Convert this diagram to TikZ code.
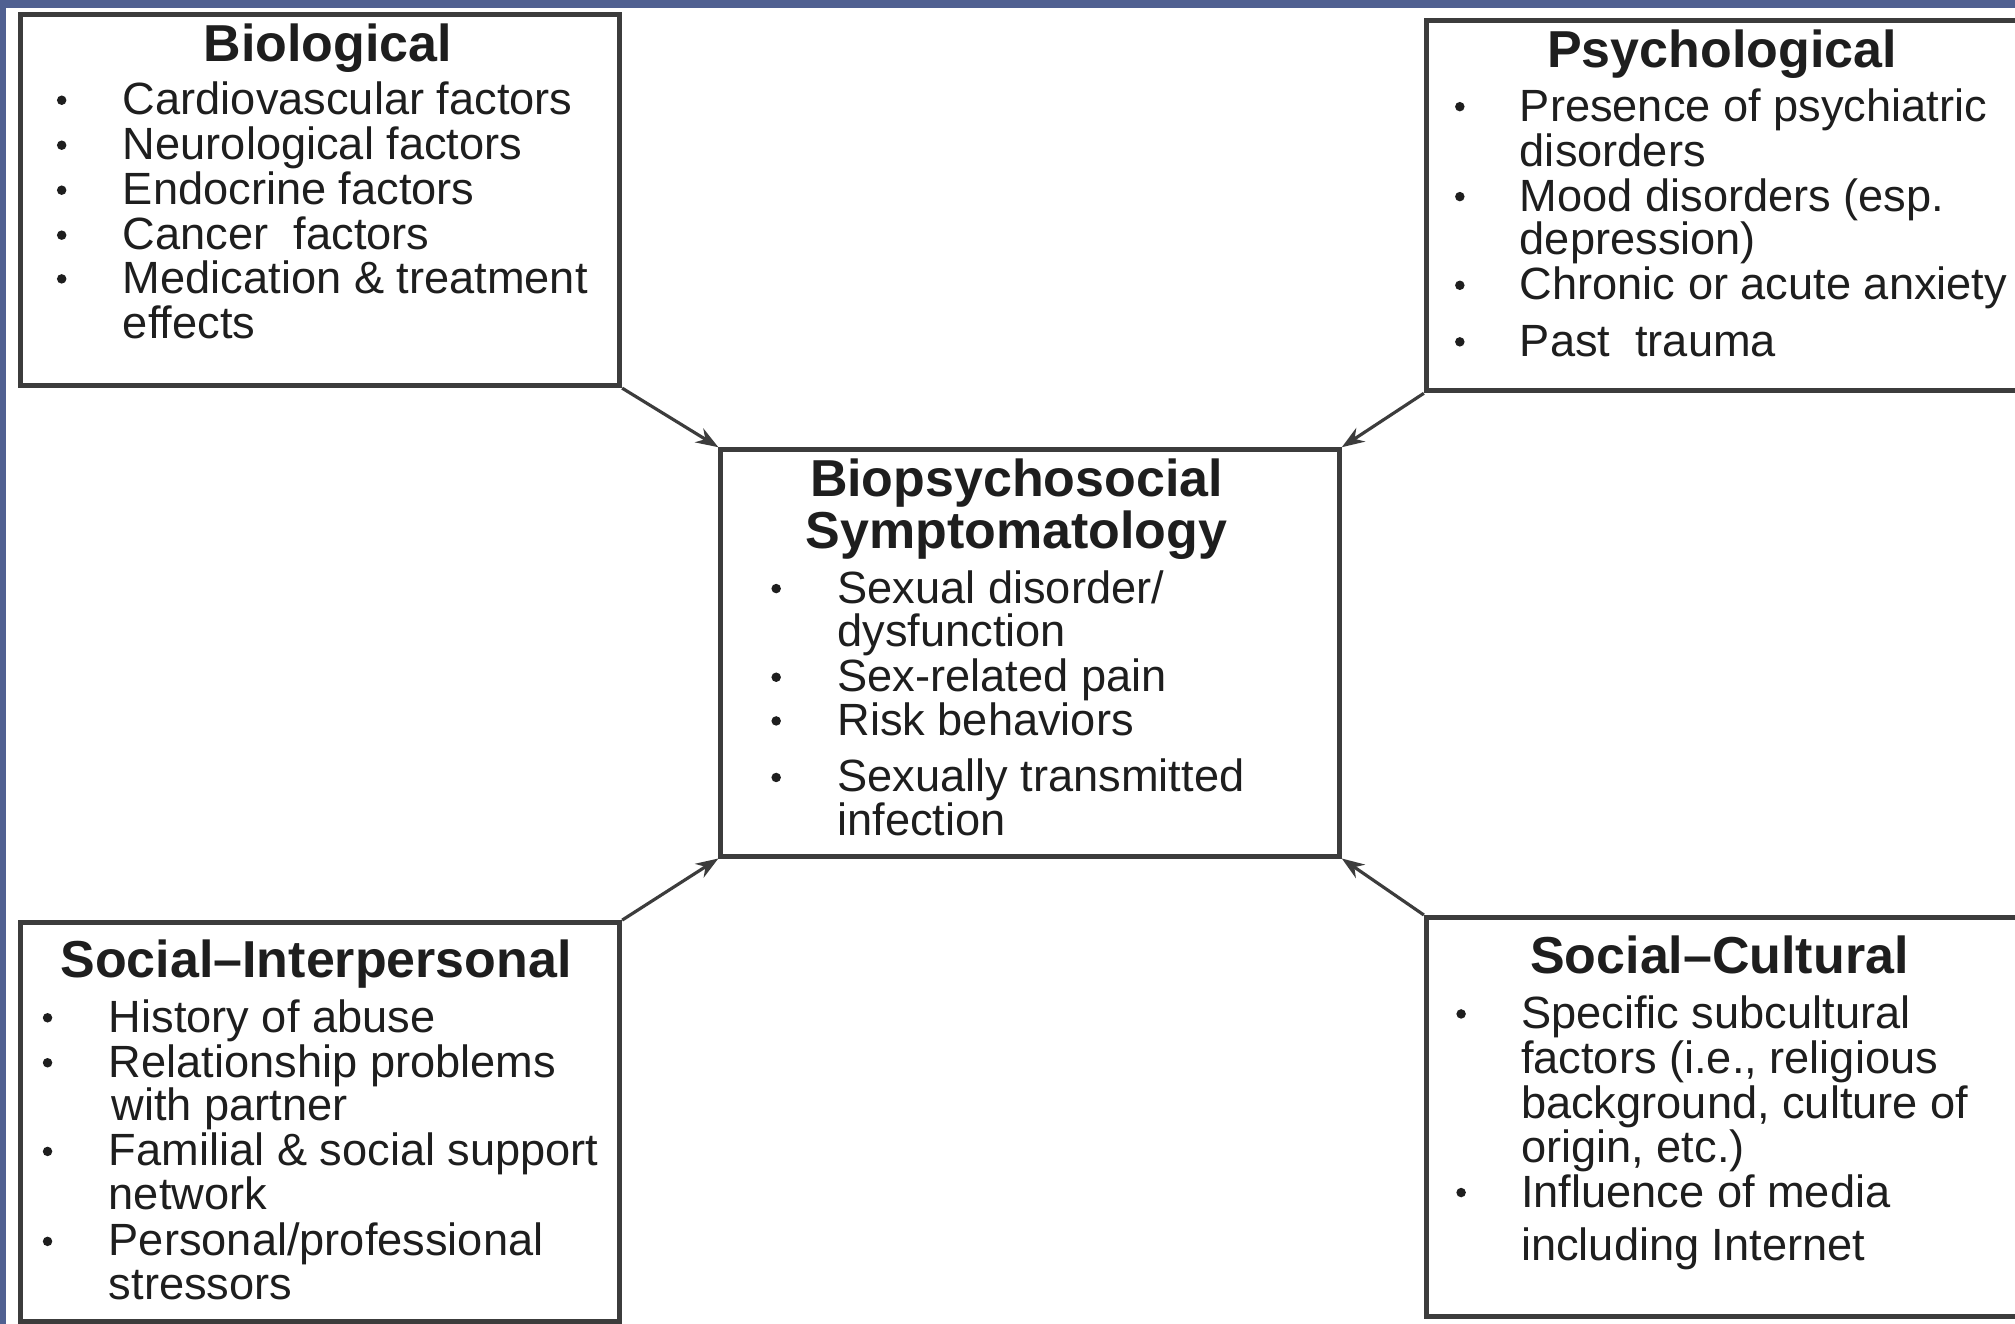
\documentclass[tikz,border=0pt]{standalone}
\usepackage{fontspec}
\setmainfont{Liberation Sans}
\usetikzlibrary{arrows.meta}
\definecolor{framecol}{RGB}{80,96,145}
\definecolor{linecol}{RGB}{60,60,60}
\definecolor{txtcol}{RGB}{30,30,30}
\tikzset{
  x=0.01cm, y=-0.01cm,
  box/.style={draw=linecol, line width=1.1pt, fill=white, inner sep=0pt, anchor=north west},
  ttl/.style={inner sep=0pt, text=txtcol, font=\fontsize{11.5}{12}\selectfont\bfseries, text height=8.3pt, text depth=0pt},
  item/.style={anchor=west, inner sep=0pt, text=txtcol, font=\fontsize{10}{10}\selectfont, text height=6.4pt, text depth=0pt},
  dot/.style={circle, fill=txtcol, inner sep=0pt, minimum size=2.1pt},
  arr/.style={draw=linecol, line width=0.7pt, -{Stealth[length=5pt,width=3.6pt]}},
}
\begin{document}
\begin{tikzpicture}
\useasboundingbox (0,0) rectangle (1568,1030);
\fill[white] (0,0) rectangle (1568,1030);
\fill[framecol] (0,0) rectangle (1568,6);
\fill[framecol] (0,0) rectangle (5,1030);

% boxes
\node[box, minimum width=4.66cm, minimum height=2.89cm] (bio) at (14,9) {};
\node[box, minimum width=4.75cm, minimum height=2.88cm] (psy) at (1108,14) {};
\node[box, minimum width=4.81cm, minimum height=3.16cm] (ctr) at (559,348) {};
\node[box, minimum width=4.66cm, minimum height=3.10cm] (sip) at (14,716) {};
\node[box, minimum width=4.75cm, minimum height=3.10cm] (scu) at (1108,712) {};

% arrows
\draw[arr] (bio.south east) -- (ctr.north west);
\draw[arr] (psy.south west) -- (ctr.north east);
\draw[arr] (sip.north east) -- (ctr.south west);
\draw[arr] (scu.north west) -- (ctr.south east);

% Biological
\node[ttl] (bioT) at (255,33) {Biological};
\node[dot] (bioD1) at (48,78) {};
\node[dot] (bioD2) at (48,113) {};
\node[dot] (bioD3) at (48,148) {};
\node[dot] (bioD4) at (48,183) {};
\node[dot] (bioD5) at (48,217) {};
\node[item] (bio1) at (95,78) {Cardiovascular factors};
\node[item] (bio2) at (95,113) {Neurological factors};
\node[item] (bio3) at (95,148) {Endocrine factors};
\node[item] (bio4) at (95,183) {Cancer\ \ factors};
\node[item] (bio5) at (95,217) {Medication \& treatment};
\node[item] (bio6) at (95,252) {effects};

% Psychological
\node[ttl] (psyT) at (1340,38) {Psychological};
\node[dot] (psyD1) at (1136,83) {};
\node[dot] (psyD2) at (1136,153) {};
\node[dot] (psyD3) at (1136,222) {};
\node[dot] (psyD4) at (1136,266) {};
\node[item] (psy1) at (1182,83) {Presence of psychiatric};
\node[item] (psy2) at (1182,118) {disorders};
\node[item] (psy3) at (1182,153) {Mood disorders (esp.};
\node[item] (psy4) at (1182,187) {depression)};
\node[item] (psy5) at (1182,222) {Chronic or acute anxiety};
\node[item] (psy6) at (1182,266) {Past\ \ trauma};

% Center
\node[ttl] (ctrT1) at (791,372) {Biopsychosocial};
\node[ttl] (ctrT2) at (791,412) {Symptomatology};
\node[dot] (ctrD1) at (604,458) {};
\node[dot] (ctrD2) at (604,527) {};
\node[dot] (ctrD3) at (604,561) {};
\node[dot] (ctrD4) at (604,605) {};
\node[item] (ctr1) at (651,458) {Sexual disorder/};
\node[item] (ctr2) at (651,492) {dysfunction};
\node[item] (ctr3) at (651,527) {Sex-related pain};
\node[item] (ctr4) at (651,561) {Risk behaviors};
\node[item] (ctr5) at (651,605) {Sexually transmitted};
\node[item] (ctr6) at (651,639) {infection};

% Social-Interpersonal
\node[ttl] (sipT) at (246,746) {Social–Interpersonal};
\node[dot] (sipD1) at (37,792) {};
\node[dot] (sipD2) at (37,827) {};
\node[dot] (sipD3) at (37,896) {};
\node[dot] (sipD4) at (37,966) {};
\node[item] (sip1) at (84,792) {History of abuse};
\node[item] (sip2) at (84,827) {Relationship problems};
\node[item] (sip3) at (86,861) {with partner};
\node[item] (sip4) at (84,896) {Familial \& social support};
\node[item] (sip5) at (84,930) {network};
\node[item] (sip6) at (84,966) {Personal/professional};
\node[item] (sip7) at (84,1000) {stressors};

% Social-Cultural
\node[ttl] (scuT) at (1338,743) {Social–Cultural};
\node[dot] (scuD1) at (1137,789) {};
\node[dot] (scuD2) at (1137,928) {};
\node[item] (scu1) at (1183,789) {Specific subcultural};
\node[item] (scu2) at (1183,824) {factors (i.e., religious};
\node[item] (scu3) at (1183,859) {background, culture of};
\node[item] (scu4) at (1183,893) {origin, etc.)};
\node[item] (scu5) at (1183,928) {Influence of media};
\node[item] (scu6) at (1183,970) {including Internet};
\end{tikzpicture}
\end{document}
